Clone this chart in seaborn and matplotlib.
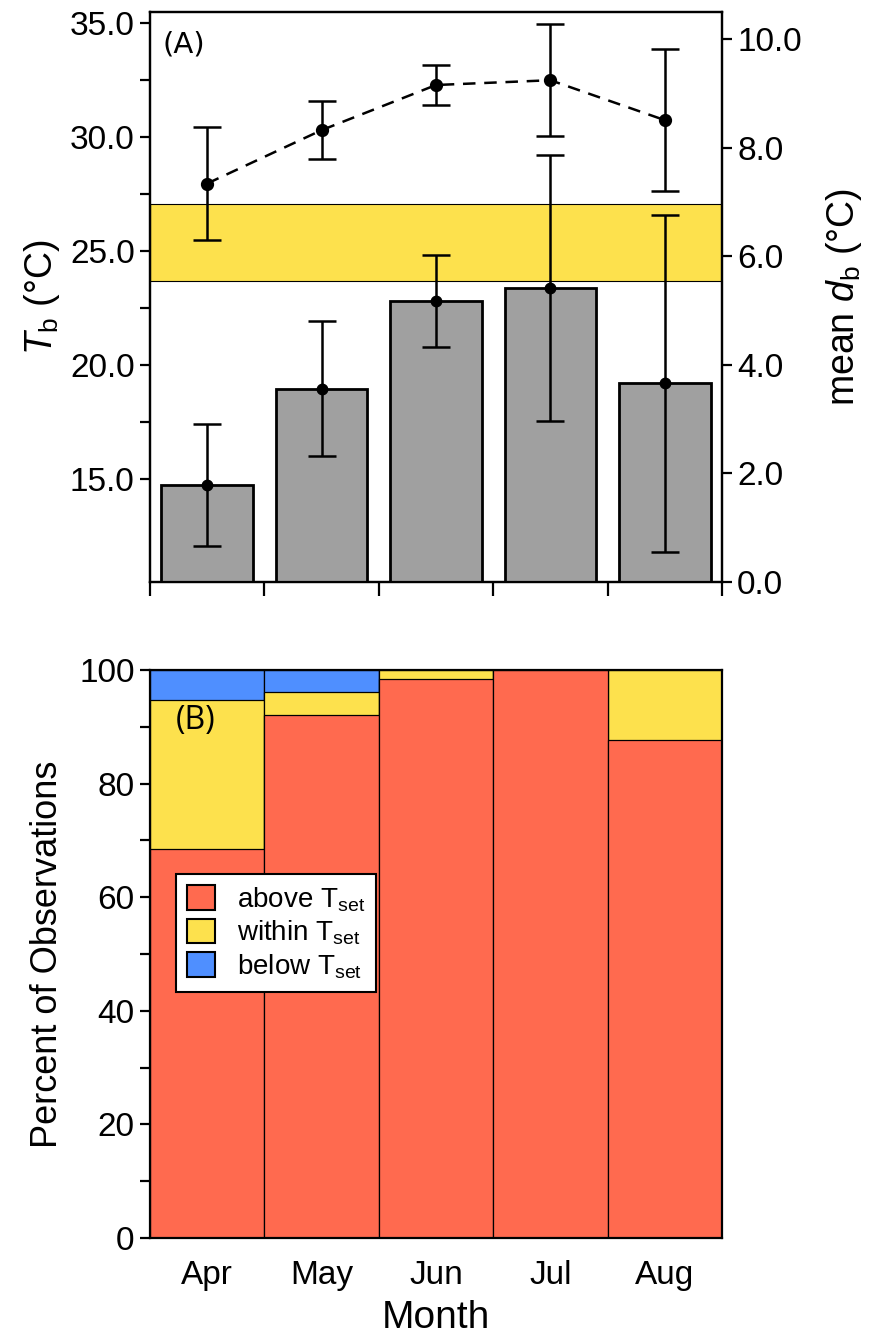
import numpy as np
import pandas as pd
import matplotlib
matplotlib.use("Agg")
import matplotlib.pyplot as plt
import seaborn as sns
from matplotlib.patches import Patch
from matplotlib.ticker import FixedLocator, FormatStrFormatter

months = ["Apr", "May", "Jun", "Jul", "Aug"]

# (A) body temperature (left axis) and mean d_b (right axis)
tb_mean = [27.98, 30.32, 32.30, 32.51, 30.76]
tb_err = [2.47, 1.26, 0.86, 2.45, 3.12]
db_mean = [1.79, 3.56, 5.18, 5.41, 3.66]
db_err = [1.12, 1.24, 0.85, 2.45, 3.11]
tset_low = 23.71
tset_high = 27.08

# (B) percent of observations
pct_above = [68.5, 92.1, 98.35, 100.0, 87.6]
pct_within = [26.3, 4.0, 1.65, 0.0, 12.4]
pct_below = [5.2, 3.9, 0.0, 0.0, 0.0]

red = "#FF6A4F"
yellow = "#FDE14D"
blue = "#4F8FFF"
gray = "#A0A0A0"

sns.set_style("ticks")
plt.rcParams["font.family"] = ["Liberation Sans", "DejaVu Sans"]
plt.rcParams["mathtext.fontset"] = "custom"
plt.rcParams["mathtext.rm"] = "Liberation Sans"
plt.rcParams["mathtext.it"] = "Liberation Sans:italic"
for key in ["text.color", "axes.labelcolor", "xtick.color", "ytick.color", "axes.edgecolor"]:
    plt.rcParams[key] = "black"
plt.rcParams["axes.linewidth"] = 1.6
plt.rcParams["xtick.major.width"] = 1.6
plt.rcParams["ytick.major.width"] = 1.6
plt.rcParams["ytick.minor.width"] = 1.6
plt.rcParams["xtick.major.size"] = 8
plt.rcParams["ytick.major.size"] = 7.5
plt.rcParams["ytick.minor.size"] = 7.5

tick_fs = 24
label_fs = 27

fig = plt.figure(figsize=(8.69, 13.39), dpi=100)

# ---- panel A ----
ax_t = fig.add_axes([0.1726, 0.5653, 0.6582, 0.4257])
ax_d = ax_t.twinx()
ax_l = ax_t.twinx()

ax_t.axhspan(tset_low, tset_high, facecolor=yellow, edgecolor="black", linewidth=0.8, zorder=0)

sns.barplot(x=months, y=db_mean, ax=ax_d, color=gray, saturation=1, width=0.8,
            edgecolor="black", linewidth=2, errorbar=None)
ax_d.errorbar(np.arange(len(months)), db_mean, yerr=db_err, fmt="o", color="black",
              ms=7.5, elinewidth=1.8, capsize=10, capthick=1.8)

sns.pointplot(x=months, y=tb_mean, ax=ax_l, color="black", linestyles="--",
              markers="o", errorbar=None)
for ln in ax_l.lines:
    ln.set_linewidth(1.8)
    ln.set_markersize(7.5)
    ln.set_dashes([5, 3.5])
ax_l.errorbar(np.arange(len(months)), tb_mean, yerr=tb_err, fmt="none", ecolor="black",
              elinewidth=1.8, capsize=10, capthick=1.8)

ax_t.set_ylim(10.5, 35.5)
ax_l.set_ylim(10.5, 35.5)
ax_d.set_ylim(0, 10.5)
ax_t.set_xlim(-0.5, 4.5)

ax_t.set_yticks([15, 20, 25, 30, 35])
ax_t.yaxis.set_minor_locator(FixedLocator([17.5, 22.5, 27.5, 32.5]))
ax_t.yaxis.set_major_formatter(FormatStrFormatter("%.1f"))
ax_t.tick_params(axis="y", labelsize=tick_fs)
ax_t.set_ylabel(r"$T_{\mathrm{b}}$ (°C)", fontsize=label_fs, labelpad=6)

ax_d.set_yticks(np.arange(0, 10.1, 2))
ax_d.yaxis.set_major_formatter(FormatStrFormatter("%.1f"))
ax_d.tick_params(axis="y", labelsize=tick_fs)
ax_d.set_ylabel(r"mean $d_{\mathrm{b}}$ (°C)", fontsize=label_fs, labelpad=16)
ax_l.set_axis_off()

ax_t.set_xticks(np.arange(-0.5, 4.6, 1))
ax_t.set_xticklabels([])
ax_t.tick_params(axis="x", length=10)
ax_t.set_xlabel("")
ax_d.set_xlabel("")
for s in ax_d.spines.values():
    s.set_linewidth(1.6)

ax_t.text(0.022, 0.968, "(A)", transform=ax_t.transAxes, fontsize=21,
          family="DejaVu Sans", va="top", ha="left")

# ---- panel B ----
ax_b = fig.add_axes([0.1726, 0.0754, 0.6582, 0.4242])
df_b = pd.DataFrame({"month": months, "above": pct_above,
                     "within": pct_within, "below": pct_below})
df_b["top_within"] = df_b["above"] + df_b["within"]
df_b["top_below"] = df_b["top_within"] + df_b["below"]

for col, c in [("top_below", blue), ("top_within", yellow), ("above", red)]:
    sns.barplot(data=df_b, x="month", y=col, ax=ax_b, color=c, saturation=1,
                width=1, edgecolor="black", linewidth=0.9, errorbar=None)

ax_b.set_xlim(-0.5, 4.5)
ax_b.set_ylim(0, 100)
ax_b.set_yticks(np.arange(0, 101, 20))
ax_b.yaxis.set_minor_locator(FixedLocator(np.arange(10, 100, 20)))
ax_b.tick_params(axis="x", length=0, labelsize=tick_fs, pad=16)
ax_b.tick_params(axis="y", labelsize=tick_fs)
ax_b.set_xlabel("Month", fontsize=label_fs + 1, labelpad=6)
ax_b.set_ylabel("Percent of Observations", fontsize=label_fs - 1, labelpad=10)

ax_b.text(0.045, 0.94, "(B)", transform=ax_b.transAxes, fontsize=23,
          family="Open Sans", va="top", ha="left")

handles = [Patch(facecolor=red, edgecolor="black", linewidth=1.5, label=r"above T$_{\mathrm{set}}$"),
           Patch(facecolor=yellow, edgecolor="black", linewidth=1.5, label=r"within T$_{\mathrm{set}}$"),
           Patch(facecolor=blue, edgecolor="black", linewidth=1.5, label=r"below T$_{\mathrm{set}}$")]
leg = ax_b.legend(handles=handles, loc="upper left", bbox_to_anchor=(0.045, 0.641),
                  borderaxespad=0, fontsize=20, frameon=True, fancybox=False,
                  framealpha=1, edgecolor="black", handlelength=1.0, handleheight=1.0,
                  handletextpad=0.8, labelspacing=0.18, borderpad=0.4)
leg.get_frame().set_linewidth(1.5)

fig.savefig("out.png", dpi=100)
